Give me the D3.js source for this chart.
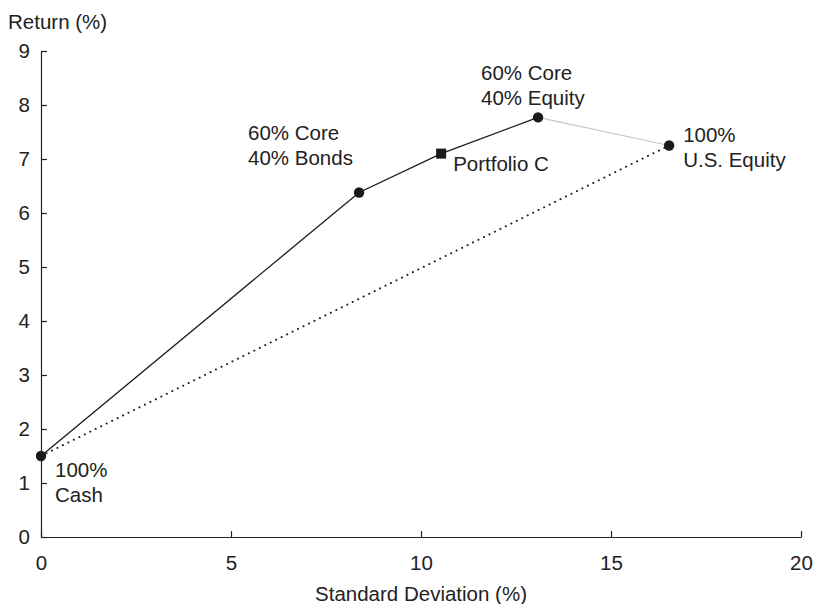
<!DOCTYPE html>
<html>
<head>
<meta charset="utf-8">
<script src="https://cdn.jsdelivr.net/npm/d3@7"></script>
<style>
  html, body { margin: 0; padding: 0; background: #fff; }
  svg text { font-family: "Liberation Sans", Arial, sans-serif; fill: #222; }
</style>
</head>
<body>
<svg id="chart" width="815" height="604"></svg>
<script>
// Risk/return points along the portfolio frontier
const labels = [["100%", "Cash"], ["60% Core", "40% Bonds"], ["Portfolio C"], ["60% Core", "40% Equity"], ["100%", "U.S. Equity"]];
const stdDev = [0, 8.37, 10.53, 13.08, 16.53];
const returns = [1.5, 6.38, 7.1, 7.77, 7.25];
const xTicks = [0, 5, 10, 15, 20];
const yTicks = [0, 1, 2, 3, 4, 5, 6, 7, 8, 9];

const W = 815, H = 604;
const m = { left: 41, top: 51, right: 14, bottom: 67 };
const svg = d3.select("#chart");

const x = d3.scaleLinear().domain([0, 20]).range([m.left, W - m.right]);
const y = d3.scaleLinear().domain([0, 9]).range([H - m.bottom, m.top]);

const fs = 20.5;

// Axes with inward ticks
const gx = svg.append("g").attr("transform", `translate(0,${H - m.bottom})`)
  .call(d3.axisBottom(x).tickValues(xTicks).tickSizeInner(-6).tickSizeOuter(0).tickPadding(18));
const gy = svg.append("g").attr("transform", `translate(${m.left},0)`)
  .call(d3.axisLeft(y).tickValues(yTicks).tickSizeInner(-6).tickSizeOuter(0).tickPadding(11));
[gx, gy].forEach(g => {
  g.selectAll("path, line").attr("stroke", "#222").attr("stroke-width", 1.2);
  g.selectAll("text").attr("font-size", fs).attr("fill", "#222")
    .attr("font-family", "'Liberation Sans', Arial, sans-serif");
});

svg.append("text").attr("x", 8).attr("y", 29).attr("font-size", fs).text("Return (%)");
svg.append("text").attr("x", x(10)).attr("y", 601)
  .attr("text-anchor", "middle").attr("font-size", fs).text("Standard Deviation (%)");

const pts = stdDev.map((d, i) => [x(d), y(returns[i])]);
const line = d3.line();

// Dotted straight line from cash to equity
svg.append("path").attr("d", line([pts[0], pts[4]]))
  .attr("fill", "none").attr("stroke", "#222").attr("stroke-width", 2)
  .attr("stroke-dasharray", "0.1 6").attr("stroke-linecap", "round");

// Grey segment to 100% equity
svg.append("path").attr("d", line([pts[3], pts[4]]))
  .attr("fill", "none").attr("stroke", "#c8c8c8").attr("stroke-width", 1.2);

// Solid frontier through the core mixes
svg.append("path").attr("d", line(pts.slice(0, 4)))
  .attr("fill", "none").attr("stroke", "#1a1a1a").attr("stroke-width", 1.3);

// Markers
pts.forEach((p, i) => {
  if (i === 2) {
    svg.append("rect").attr("x", p[0] - 5).attr("y", p[1] - 5).attr("width", 10).attr("height", 10).attr("fill", "#1a1a1a");
  } else {
    svg.append("circle").attr("cx", p[0]).attr("cy", p[1]).attr("r", 5.2).attr("fill", "#1a1a1a");
  }
});

// Point labels: offset of first line's baseline from the point
const offsets = [[14, 21], [-111, -52], [12, 17], [-57, -37], [14, -4]];
labels.forEach((lines, i) => {
  const t = svg.append("text").attr("font-size", fs)
    .attr("x", pts[i][0] + offsets[i][0]).attr("y", pts[i][1] + offsets[i][1]);
  lines.forEach((s, j) => t.append("tspan").attr("x", pts[i][0] + offsets[i][0]).attr("dy", j === 0 ? 0 : 25).text(s));
});
</script>
</body>
</html>
